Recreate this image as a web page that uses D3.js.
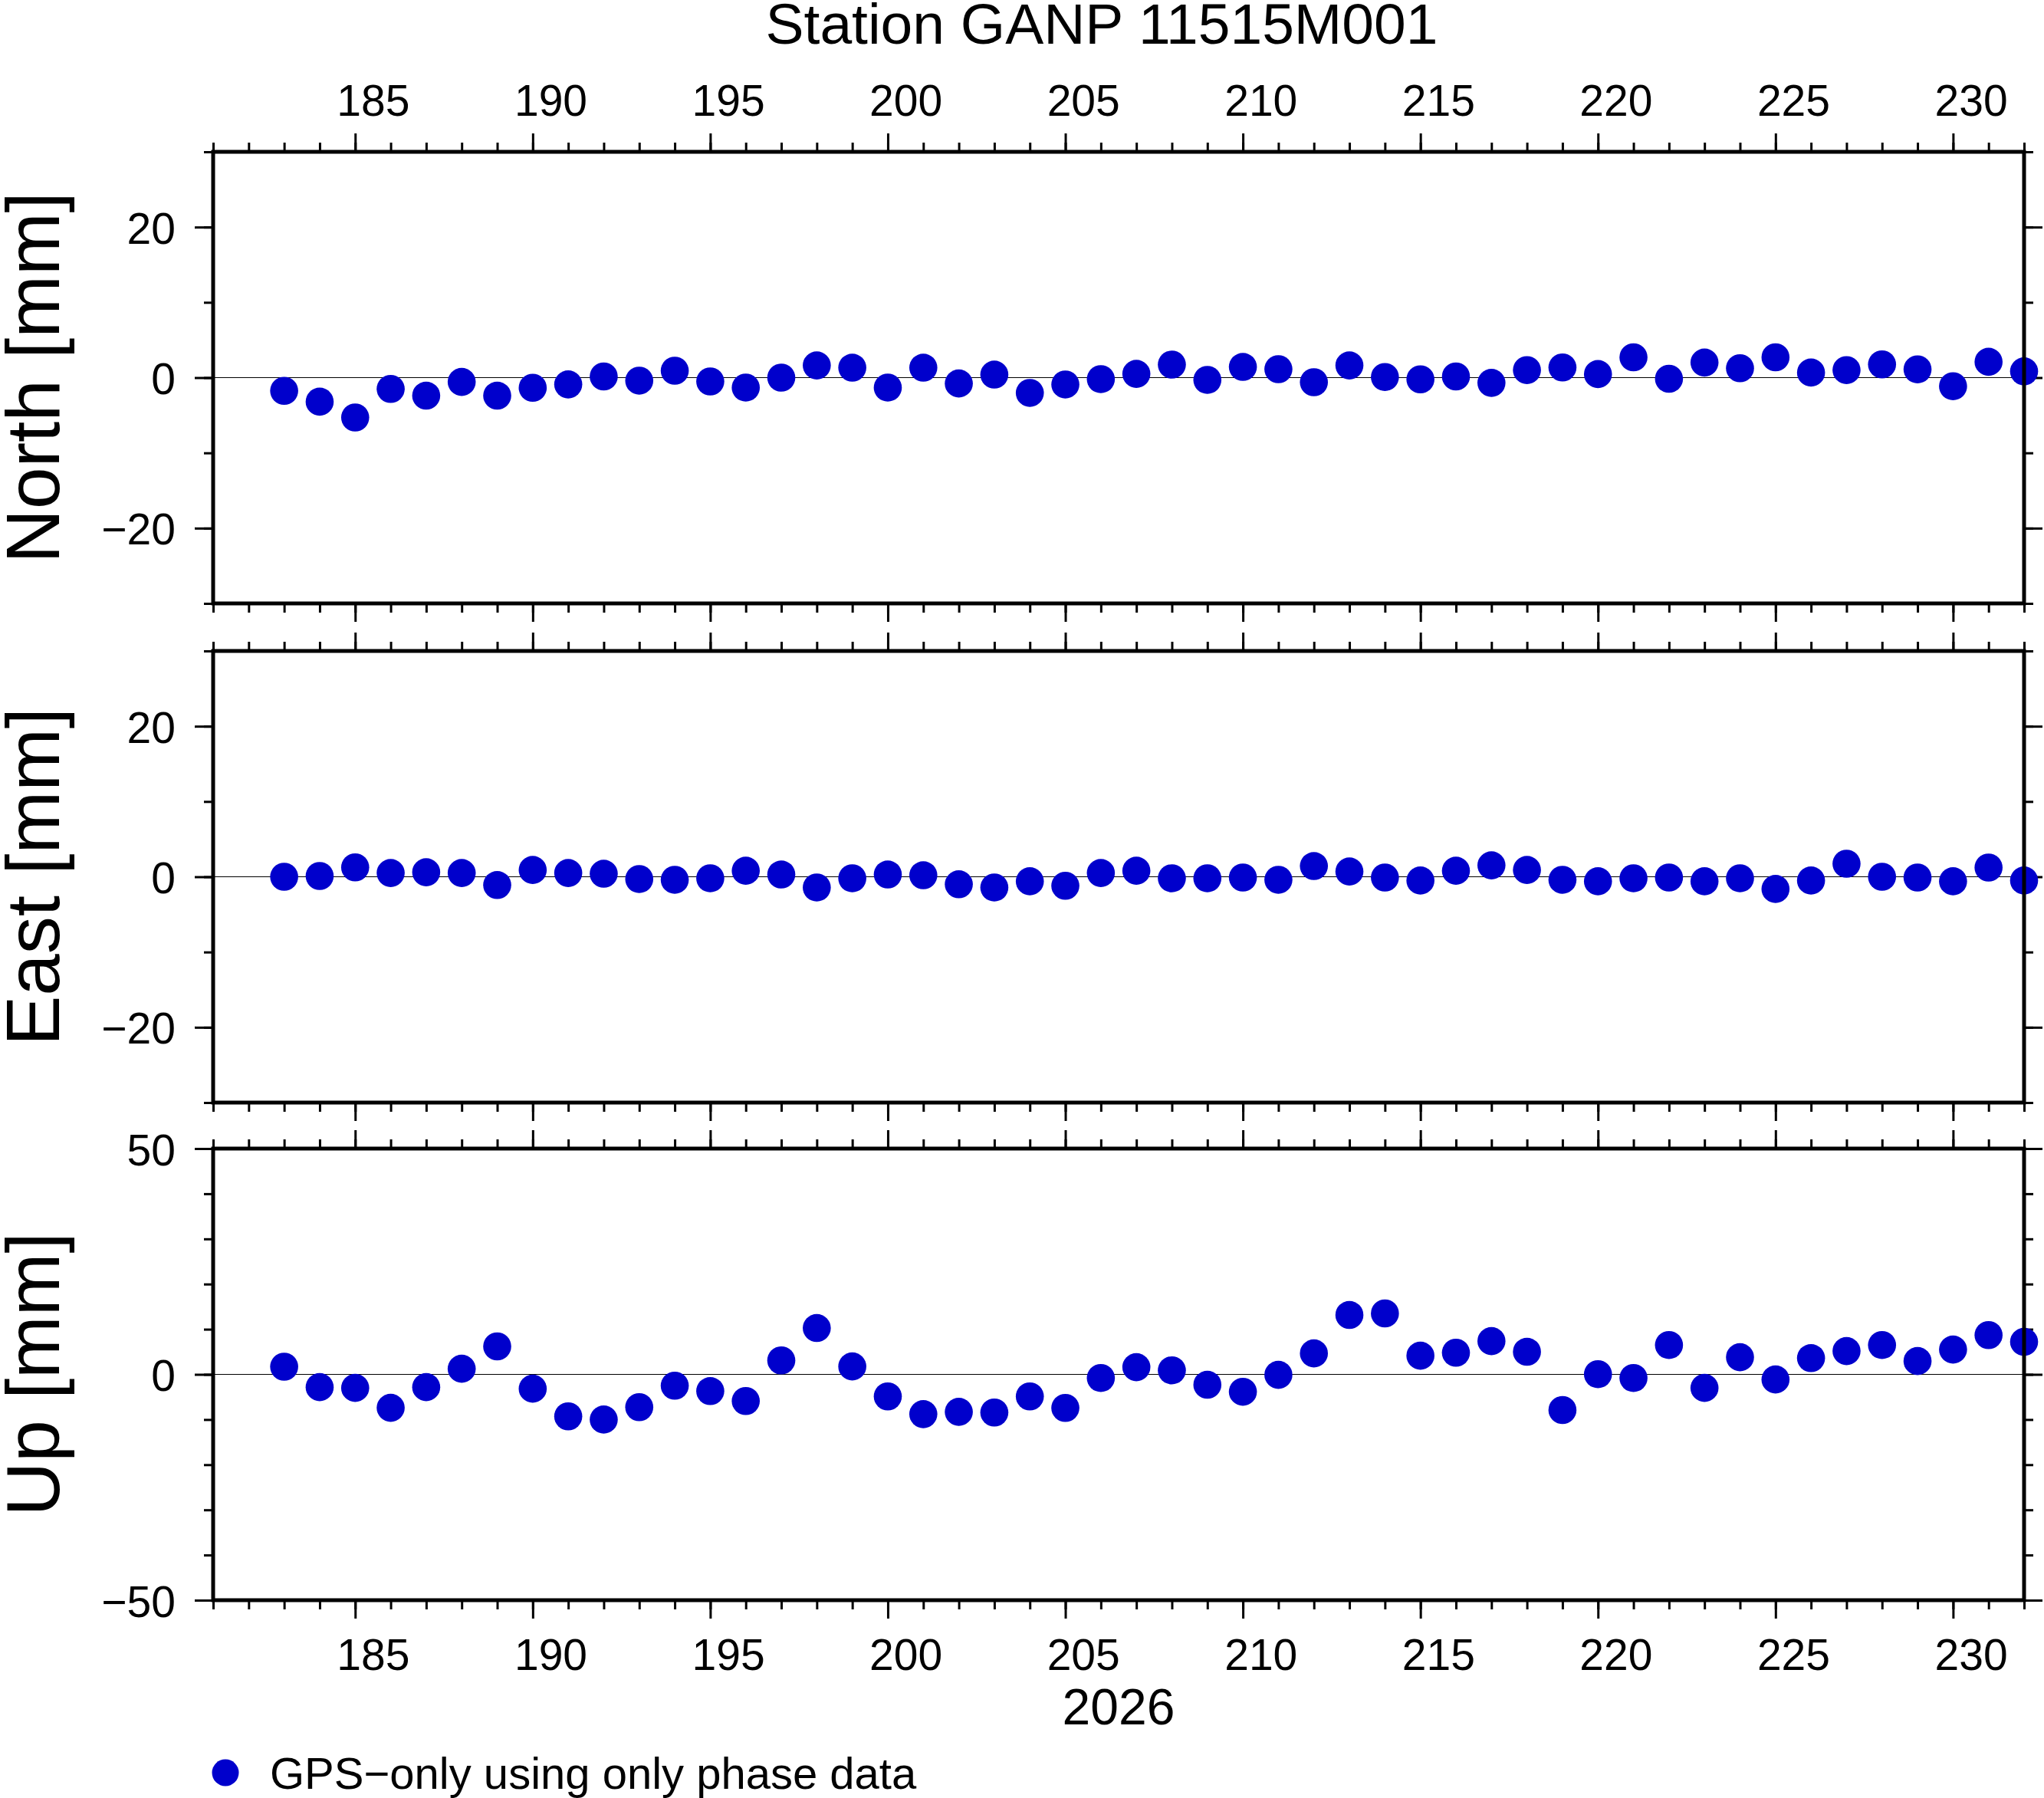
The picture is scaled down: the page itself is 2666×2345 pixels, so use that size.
<!DOCTYPE html>
<html>
<head>
<meta charset="utf-8">
<script src="https://cdn.jsdelivr.net/npm/d3@7"></script>
<style>
  body { margin: 0; background: #fff; }
  .tick line { stroke: #000; stroke-width: 3; }
</style>
</head>
<body>
<div id="plot"></div>
<script>
// Station time series, day of year 2026
var days = [183, 184, 185, 186, 187, 188, 189, 190, 191, 192,
            193, 194, 195, 196, 197, 198, 199, 200, 201, 202,
            203, 204, 205, 206, 207, 208, 209, 210, 211, 212,
            213, 214, 215, 216, 217, 218, 219, 220, 221, 222,
            223, 224, 225, 226, 227, 228, 229, 230, 231, 232];

var north = [-1.76, -3.2, -5.3, -1.5, -2.4, -0.57, -2.4, -1.35, -0.9, 0.15,
             -0.4, 0.92, -0.51, -1.32, 0.0, 1.62, 1.32, -1.32, 1.32, -0.78,
             0.4, -2.03, -0.91, -0.2, 0.5, 1.73, -0.3, 1.42, 1.12, -0.61,
             1.62, 0.08, -0.23, 0.15, -0.7, 1.0, 1.35, 0.47, 2.7, -0.15,
             2.0, 1.25, 2.7, 0.67, 1.0, 1.76, 1.1, -1.14, 2.1, 0.83];

var east = [0.0, 0.1, 1.25, 0.5, 0.6, 0.5, -1.1, 0.9, 0.5, 0.4,
            -0.3, -0.4, -0.2, 0.8, 0.3, -1.42, -0.2, 0.3, 0.2, -1.0,
            -1.42, -0.6, -1.2, 0.5, 0.8, -0.2, -0.2, -0.1, -0.4, 1.42,
            0.7, -0.1, -0.5, 0.8, 1.52, 0.9, -0.4, -0.6, -0.2, -0.1,
            -0.6, -0.2, -1.62, -0.5, 1.73, 0.0, -0.1, -0.6, 1.22, -0.5];

var up = [1.7, -2.83, -3.0, -7.4, -2.83, 1.25, 6.2, -3.17, -9.3, -10.0,
          -7.26, -2.5, -3.7, -5.9, 3.1, 10.26, 1.76, -4.88, -8.8, -8.3,
          -8.45, -4.88, -7.43, -0.8, 1.6, 0.9, -2.3, -3.85, -0.1, 4.65,
          13.15, 13.5, 4.14, 4.8, 7.37, 5.0, -7.9, 0.05, -0.8, 6.5,
          -3.0, 3.8, -1.13, 3.6, 5.16, 6.5, 2.95, 5.5, 8.7, 7.2];

// Ticks
var dayMajor = [185, 190, 195, 200, 205, 210, 215, 220, 225, 230];
var dayMinor = [181, 182, 183, 184, 185, 186, 187, 188, 189, 190, 191, 192, 193,
                194, 195, 196, 197, 198, 199, 200, 201, 202, 203, 204, 205, 206,
                207, 208, 209, 210, 211, 212, 213, 214, 215, 216, 217, 218, 219,
                220, 221, 222, 223, 224, 225, 226, 227, 228, 229, 230, 231, 232];
var dayLabels = [185, 190, 195, 200, 205, 210, 215, 220, 225, 230];
var mmMajor = [-20, 0, 20];
var mmMinor = [-30, -20, -10, 0, 10, 20, 30];
var upMajor = [-50, 0, 50];
var upMinor = [-50, -40, -30, -20, -10, 0, 10, 20, 30, 40, 50];

var svgWidth = 2666;
var svgHeight = 2345;
var fontFamily = "'Liberation Sans', Arial, Helvetica, sans-serif";
var tickFont = 57;
var dotColor = "#0000cc";

var left = 278, right = 2640;
var panelHeight = 589;

var panels = [
  { name: "North [mm]", top: 198, values: north, domain: [-30, 30], major: mmMajor, minor: mmMinor, labelTop: true },
  { name: "East [mm]", top: 849, values: east, domain: [-30, 30], major: mmMajor, minor: mmMinor },
  { name: "Up [mm]", top: 1498, values: up, domain: [-50, 50], major: upMajor, minor: upMinor, labelBottom: true }
];

var svg = d3.select("#plot")
  .append("svg")
  .attr("width", svgWidth)
  .attr("height", svgHeight)
  .style("background", "#fff");

var x = d3.scaleLinear()
  .domain([181, 232])
  .range([left, right]);

function styleAxis(g) {
  g.select(".domain").remove();
  g.attr("font-family", fontFamily).attr("font-size", tickFont);
}

panels.forEach(function(p) {
  var y = d3.scaleLinear()
    .domain(p.domain)
    .range([panelHeight, 0]);

  var g = svg.append("g")
    .attr("transform", `translate(0, ${p.top})`);

  // y ticks, left and right
  g.append("g")
    .attr("transform", `translate(${left}, 0)`)
    .call(d3.axisLeft(y).tickValues(p.minor).tickSize(12).tickFormat(""))
    .call(styleAxis);
  g.append("g")
    .attr("transform", `translate(${left}, 0)`)
    .call(d3.axisLeft(y).tickValues(p.major).tickSize(24).tickPadding(25))
    .call(styleAxis)
    .selectAll("text")
    .attr("dy", "0.37em");
  g.append("g")
    .attr("transform", `translate(${right}, 0)`)
    .call(d3.axisRight(y).tickValues(p.minor).tickSize(12).tickFormat(""))
    .call(styleAxis);
  g.append("g")
    .attr("transform", `translate(${right}, 0)`)
    .call(d3.axisRight(y).tickValues(p.major).tickSize(24).tickFormat(""))
    .call(styleAxis);

  // x ticks, top and bottom
  g.append("g")
    .call(d3.axisTop(x).tickValues(dayMinor).tickSize(12).tickFormat(""))
    .call(styleAxis);
  g.append("g")
    .call(d3.axisTop(x).tickValues(dayMajor).tickSize(24).tickFormat(""))
    .call(styleAxis);
  g.append("g")
    .attr("transform", `translate(0, ${panelHeight})`)
    .call(d3.axisBottom(x).tickValues(dayMinor).tickSize(12).tickFormat(""))
    .call(styleAxis);
  g.append("g")
    .attr("transform", `translate(0, ${panelHeight})`)
    .call(d3.axisBottom(x).tickValues(dayMajor).tickSize(24).tickFormat(""))
    .call(styleAxis);

  // day labels sit in the middle of the day interval
  if (p.labelTop) {
    g.append("g")
      .call(d3.axisTop(x).tickValues(dayLabels.map(d => d + 0.5)).tickSize(0)
        .tickPadding(47).tickFormat(d => Math.floor(d)))
      .call(styleAxis);
  }
  if (p.labelBottom) {
    g.append("g")
      .attr("transform", `translate(0, ${panelHeight})`)
      .call(d3.axisBottom(x).tickValues(dayLabels.map(d => d + 0.5)).tickSize(0)
        .tickPadding(51).tickFormat(d => Math.floor(d)))
      .call(styleAxis);
  }

  // zero line
  g.append("line")
    .attr("x1", left)
    .attr("x2", right)
    .attr("y1", y(0))
    .attr("y2", y(0))
    .attr("stroke", "#000")
    .attr("stroke-width", 1.2);

  // points
  g.selectAll("circle")
    .data(p.values)
    .enter()
    .append("circle")
    .attr("cx", (d, i) => x(days[i]))
    .attr("cy", d => y(d))
    .attr("r", 18.3)
    .attr("fill", dotColor);

  // frame
  g.append("rect")
    .attr("x", left)
    .attr("y", 0)
    .attr("width", right - left)
    .attr("height", panelHeight)
    .attr("fill", "none")
    .attr("stroke", "#000")
    .attr("stroke-width", 5);

  // axis title
  g.append("text")
    .attr("transform", "rotate(-90)")
    .attr("x", -panelHeight / 2)
    .attr("y", 77)
    .attr("text-anchor", "middle")
    .attr("font-family", fontFamily)
    .attr("font-size", 98)
    .text(p.name);
});

// Title
svg.append("text")
  .attr("x", 1437)
  .attr("y", 57)
  .attr("text-anchor", "middle")
  .attr("font-family", fontFamily)
  .attr("font-size", 75)
  .text("Station GANP 11515M001");

// Year label
svg.append("text")
  .attr("x", (left + right) / 2)
  .attr("y", 2249)
  .attr("text-anchor", "middle")
  .attr("font-family", fontFamily)
  .attr("font-size", 66)
  .text("2026");

// Legend
svg.append("circle")
  .attr("cx", 294)
  .attr("cy", 2312)
  .attr("r", 17.5)
  .attr("fill", dotColor);

svg.append("text")
  .attr("x", 352)
  .attr("y", 2333)
  .attr("font-family", fontFamily)
  .attr("font-size", 58)
  .text("GPS\u2212only using only phase data");
</script>
</body>
</html>
